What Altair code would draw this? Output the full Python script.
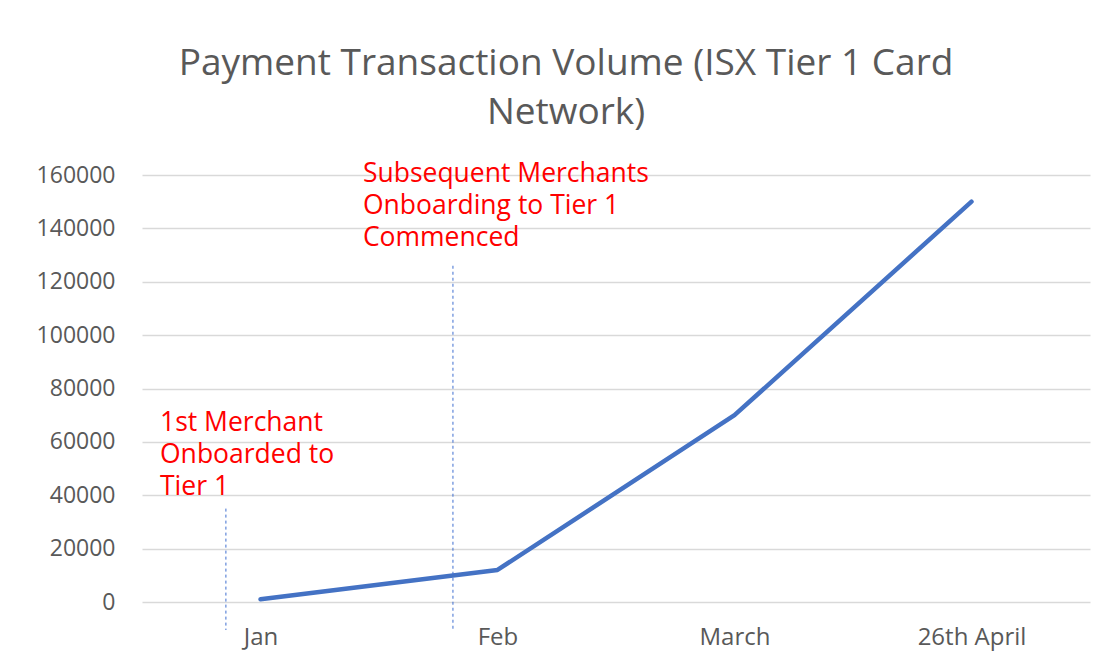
import altair as alt
import pandas as pd

# Data
months = ["Jan", "Feb", "March", "26th April"]
volume = [1000, 12000, 70000, 150000]

# Marker lines (in month-slot units, 0..4) and their top values
marker_pos = [0.354, 1.312]
marker_top = [35000, 126000]
marker_bottom = [-10500, -10500]

# Annotations
note_pos = [0.076, 0.932]
note_y = [64000, 157400]
note_text = [
    ["1st Merchant", "Onboarded to", "Tier 1"],
    ["Subsequent Merchants", "Onboarding to Tier 1", "Commenced"],
]

line_df = pd.DataFrame({"month": months, "volume": volume})
rule_df = pd.DataFrame({"pos": marker_pos, "top": marker_top, "bottom": marker_bottom})
note_df = pd.DataFrame({"pos": note_pos, "y": note_y, "text": note_text})

W, H = 948, 427
ydom = [0, 160000]
yscale = alt.Scale(domain=ydom, nice=False)

line = alt.Chart(line_df).mark_line(
    color="#4472C4", strokeWidth=4.5, strokeCap="round", strokeJoin="round"
).encode(
    x=alt.X("month:N", sort=months, title=None,
            scale=alt.Scale(paddingInner=0, paddingOuter=0),
            axis=alt.Axis(labelAngle=0, labelFont="Open Sans", labelFontSize=24,
                          labelColor="#595959", labelPadding=23, ticks=False,
                          domain=False, grid=False)),
    y=alt.Y("volume:Q", title=None, scale=yscale,
            axis=alt.Axis(values=list(range(0, 160001, 20000)), format="d",
                          labelFont="Open Sans", labelFontSize=23,
                          labelColor="#595959", labelPadding=27,
                          ticks=False, domain=False, gridColor="#D9D9D9",
                          gridWidth=1.5)),
)

xq = alt.X("pos:Q", scale=alt.Scale(domain=[0, 4], nice=False, zero=False), axis=None)

rules = alt.Chart(rule_df).mark_rule(
    color="#3F6FD0", strokeWidth=1, strokeDash=[3, 3], clip=False
).encode(
    x=xq,
    y=alt.Y("top:Q", scale=yscale),
    y2="bottom:Q",
)

notes = alt.Chart(note_df).mark_text(
    align="left", baseline="alphabetic", font="Open Sans", fontSize=26.5,
    color="#FF0000", lineHeight=32
).encode(
    x=xq,
    y=alt.Y("y:Q", scale=yscale),
    text="text",
)

chart = alt.layer(line, rules, notes).resolve_scale(x="independent").properties(
    width=W, height=H,
    background="white",
    title=alt.TitleParams(
        ["Payment Transaction Volume (ISX Tier 1 Card", "Network)"],
        font="Open Sans", fontSize=37, fontWeight="normal", color="#595959",
        anchor="middle", offset=29, lineHeight=49, dx=-50,
    ),
    autosize=alt.AutoSizeParams(type="none"),
    padding={"left": 134, "top": 167, "right": 15, "bottom": 55},
).configure_view(strokeWidth=0)

chart.save("out.html", embed_options={"renderer": "svg", "actions": False})
